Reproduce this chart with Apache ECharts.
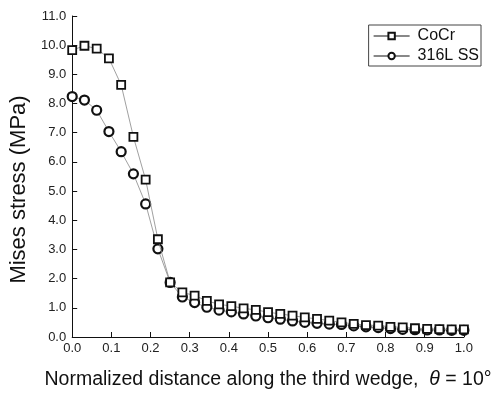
<!DOCTYPE html>
<html>
<head>
<meta charset="utf-8">
<script src="https://cdn.jsdelivr.net/npm/echarts@6/dist/echarts.min.js"></script>
<style>html,body{margin:0;padding:0;background:#fff}#c{width:494px;height:395px}</style>
</head>
<body>
<div id="c"></div>
<script>
var xs = [0, 0.03125, 0.0625, 0.09375, 0.125, 0.15625, 0.1875, 0.21875, 0.25, 0.28125, 0.3125, 0.34375, 0.375, 0.40625, 0.4375, 0.46875, 0.5, 0.53125, 0.5625, 0.59375, 0.625, 0.65625, 0.6875, 0.71875, 0.75, 0.78125, 0.8125, 0.84375, 0.875, 0.90625, 0.9375, 0.96875, 1.0];
var cocr = [9.83, 9.98, 9.88, 9.55, 8.64, 6.86, 5.39, 3.35, 1.87, 1.53, 1.42, 1.24, 1.12, 1.06, 0.98, 0.93, 0.85, 0.79, 0.73, 0.67, 0.62, 0.56, 0.50, 0.45, 0.41, 0.39, 0.35, 0.33, 0.30, 0.28, 0.27, 0.26, 0.26];
var ss316 = [8.24, 8.12, 7.77, 7.04, 6.35, 5.59, 4.56, 3.02, 1.87, 1.37, 1.18, 1.02, 0.92, 0.86, 0.79, 0.72, 0.66, 0.61, 0.55, 0.50, 0.47, 0.44, 0.43, 0.38, 0.35, 0.32, 0.29, 0.26, 0.25, 0.24, 0.24, 0.23, 0.23];
var seriesNames = ['CoCr', '316L SS'];

function pairs(v) { return xs.map(function (x, i) { return [x, v[i]]; }); }

var font = 'Liberation Sans, Arial, sans-serif';
var chart = echarts.init(document.getElementById('c'));
chart.setOption({
  animation: false,
  backgroundColor: '#fff',
  grid: { left: 71, right: 28, top: 16, bottom: 58, containLabel: false },
  legend: {
    orient: 'vertical', right: 13, top: 25,
    data: seriesNames,
    itemWidth: 36, itemHeight: 8, itemGap: 4,
    borderColor: '#444', borderWidth: 1, borderRadius: 0,
    padding: [3, 2, 2, 4],
    textStyle: { fontFamily: font, fontSize: 16, color: '#111', padding: [0, 0, 0, 3] }
  },
  xAxis: {
    type: 'value', min: 0, max: 1, interval: 0.1,
    name: 'Normalized distance along the third wedge,  {i|θ} = 10°',
    nameLocation: 'middle', nameGap: 33,
    nameTextStyle: { fontFamily: font, fontSize: 19.5, color: '#111',
      rich: { i: { fontFamily: font, fontSize: 19.5, fontStyle: 'italic', color: '#111' } } },
    axisLine: { lineStyle: { color: '#111', width: 1 } },
    axisTick: { inside: true, length: 5, lineStyle: { color: '#111' } },
    axisLabel: { fontFamily: font, fontSize: 13, color: '#222', margin: 5,
      formatter: function (v) { return v.toFixed(1); } },
    splitLine: { show: false }
  },
  yAxis: {
    type: 'value', min: 0, max: 11, interval: 1,
    name: 'Mises stress (MPa)', nameLocation: 'middle', nameGap: 42,
    nameTextStyle: { fontFamily: font, fontSize: 22, color: '#111', padding: [0, 26, 0, 0] },
    axisLine: { show: true, lineStyle: { color: '#111', width: 1 } },
    axisTick: { show: true, inside: true, length: 5, lineStyle: { color: '#111' } },
    axisLabel: { fontFamily: font, fontSize: 13, color: '#222', margin: 6,
      formatter: function (v) { return v.toFixed(1); } },
    splitLine: { show: false }
  },
  series: [
    {
      name: seriesNames[0], type: 'line', data: pairs(cocr),
      symbol: 'rect', symbolSize: 8, showAllSymbol: true,
      lineStyle: { color: '#888', width: 0.8 },
      itemStyle: { color: '#fff', borderColor: '#111', borderWidth: 1.8 },
      z: 3
    },
    {
      name: seriesNames[1], type: 'line', data: pairs(ss316),
      symbol: 'circle', symbolSize: 9, showAllSymbol: true,
      lineStyle: { color: '#888', width: 0.8 },
      itemStyle: { color: '#fff', borderColor: '#111', borderWidth: 2.2 },
      z: 2
    }
  ]
});
</script>
</body>
</html>
